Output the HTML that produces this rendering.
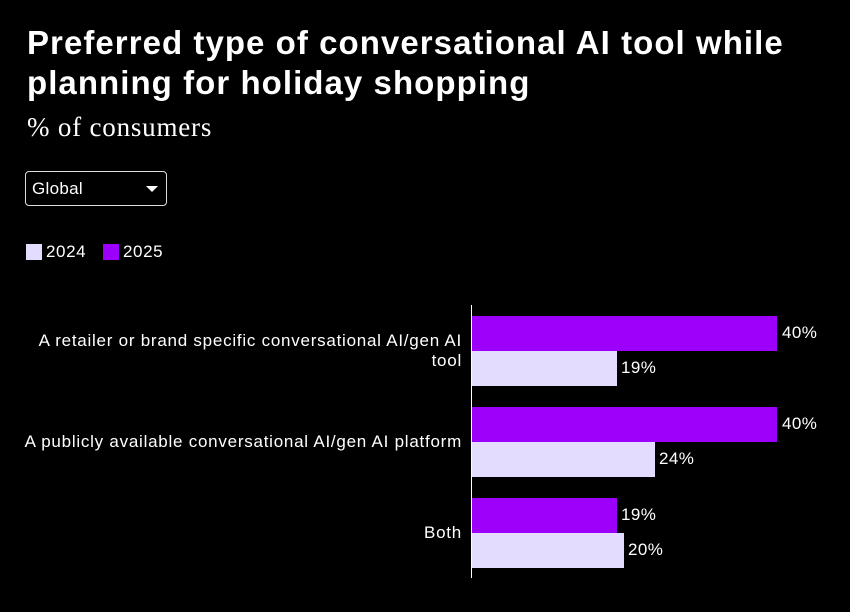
<!DOCTYPE html>
<html><head><style>
body{margin:0;width:850px;height:612px;background:#000;color:#fff;font-family:"Liberation Sans",sans-serif;position:relative;overflow:hidden}
.t{position:absolute;left:27px;top:23px;font-size:33px;font-weight:bold;line-height:40px;letter-spacing:1.05px;white-space:nowrap}
.s{position:absolute;left:27px;top:112px;font-family:"Liberation Serif",serif;font-size:27px;letter-spacing:0.8px}
.dd{position:absolute;left:25px;top:171px;width:142px;height:35px;border:1px solid #ddd;border-radius:4px;box-sizing:border-box}
.dd span{position:absolute;left:6px;top:7px;font-size:17px;letter-spacing:0.3px}
.dd i{position:absolute;right:8px;top:14px;border-left:6px solid transparent;border-right:6px solid transparent;border-top:6px solid #fff}
.lg{position:absolute;top:242px;font-size:17px;letter-spacing:0.6px}
.sw{position:absolute;top:244px;width:16px;height:16px}
.b{position:absolute;left:472px;height:35px}
.p{background:#9d00fa}.l{background:#e3dcff}
.v{position:absolute;font-size:17px;letter-spacing:0.4px}
.c{position:absolute;right:388px;font-size:17px;letter-spacing:0.75px;text-align:right;line-height:20px;white-space:nowrap}
</style></head><body>
<div class="t">Preferred type of conversational AI tool while<br>planning for holiday shopping</div>
<div class="s">% of consumers</div>
<div class="dd"><span>Global</span><i></i></div>
<div class="sw l" style="left:26px"></div><div class="lg" style="left:46px">2024</div>
<div class="sw p" style="left:103px"></div><div class="lg" style="left:123px">2025</div>
<div style="position:absolute;left:471px;top:305px;width:1px;height:273px;background:#fff"></div>
<div class="c" style="top:331px">A retailer or brand specific conversational AI/gen AI<br>tool</div>
<div class="c" style="top:432px">A publicly available conversational AI/gen AI platform</div>
<div class="c" style="top:523px">Both</div>
<div class="b p" style="top:316px;width:305px"></div><div class="v" style="left:782px;top:323px">40%</div>
<div class="b l" style="top:351px;width:145px"></div><div class="v" style="left:621px;top:358px">19%</div>
<div class="b p" style="top:407px;width:305px"></div><div class="v" style="left:782px;top:414px">40%</div>
<div class="b l" style="top:442px;width:183px"></div><div class="v" style="left:659px;top:449px">24%</div>
<div class="b p" style="top:498px;width:145px"></div><div class="v" style="left:621px;top:505px">19%</div>
<div class="b l" style="top:533px;width:152px"></div><div class="v" style="left:628px;top:540px">20%</div>
</body></html>
